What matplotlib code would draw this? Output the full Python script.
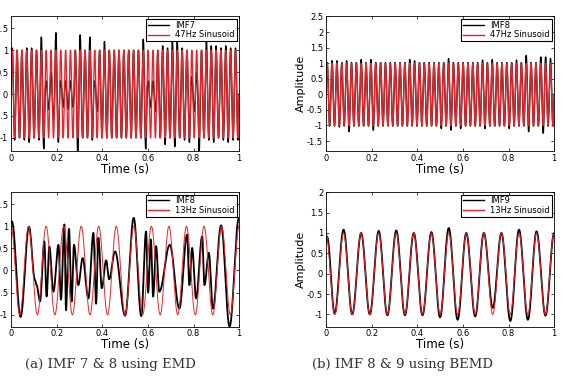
import matplotlib
matplotlib.use("Agg")
import matplotlib.pyplot as plt
import numpy as np
from matplotlib.ticker import FormatStrFormatter

# =========================
# Datos
# =========================
f_hi = 47   # Hz, sinusoide de referencia (arriba)
f_lo = 13   # Hz, sinusoide de referencia (abajo)

# amplitud de cada medio ciclo (47 ciclos) - IMF7 (EMD)
imf7_pos = [1.05, 1.0, 1.0, 1.05, 1.05, 1.0, 1.3, 0.3, 0.5, 1.4,
            0.3, 0.3, 0.3, 1.0, 1.35, 1.0, 1.3, 0.3, 1.0, 1.2,
            1.0, 1.0, 1.0, 1.0, 1.0, 1.0, 1.0, 1.25, 0.3, 0.3,
            1.0, 1.1, 1.05, 1.2, 1.2, 1.05, 1.0, 0.4, 0.5, 1.0,
            1.25, 1.1, 1.1, 1.05, 1.1, 1.05, 1.05]
imf7_neg = [-1.05, -1.0, -1.05, -1.1, -1.0, -1.05, -1.25, -0.35, -0.6, -1.1,
            -0.3, -0.35, -0.3, -1.4, -1.0, -1.0, -1.05, -0.4, -1.0, -1.0,
            -1.0, -1.0, -1.0, -1.0, -1.0, -1.0, -1.0, -1.25, -0.3, -0.4,
            -1.0, -1.15, -1.0, -1.2, -1.0, -1.05, -1.1, -0.4, -1.35, -1.0,
            -1.05, -1.1, -1.0, -1.05, -1.1, -1.05, -1.05]

# IMF8 (BEMD)
imf8b_pos = [1.02, 1.08, 1.08, 1.02, 1.08, 1.02, 1.02, 1.12, 1.02, 1.12,
             1.02, 1.02, 1.02, 1.02, 1.02, 1.02, 1.02, 1.12, 1.08, 1.02,
             1.02, 1.02, 1.02, 1.02, 1.02, 1.15, 1.02, 1.02, 1.02, 1.02,
             1.02, 1.02, 1.1, 1.02, 1.12, 1.02, 1.02, 1.02, 1.02, 1.1,
             1.02, 1.25, 1.02, 1.02, 1.2, 1.2, 1.15]
imf8b_neg = [-1.02, -1.02, -1.05, -1.02, -1.2, -1.02, -1.02, -1.02, -1.02, -1.15,
             -1.02, -1.02, -1.02, -1.02, -1.02, -1.02, -1.02, -1.02, -1.02, -1.02,
             -1.02, -1.02, -1.02, -1.1, -1.02, -1.15, -1.02, -1.1, -1.02, -1.02,
             -1.02, -1.02, -1.1, -1.02, -1.02, -1.02, -1.02, -1.1, -1.02, -1.02,
             -1.02, -1.2, -1.02, -1.02, -1.25, -1.02, -1.02]

# extremos de IMF8 (EMD): tiempo, valor
imf8_t = [0.0, 0.004, 0.042, 0.079, 0.105, 0.112, 0.127, 0.146, 0.156, 0.168,
          0.186, 0.208, 0.219, 0.234, 0.241, 0.254, 0.266, 0.276, 0.295, 0.314,
          0.339, 0.361, 0.373, 0.383, 0.398, 0.417, 0.43, 0.456, 0.5, 0.538,
          0.571, 0.592, 0.601, 0.613, 0.623, 0.636, 0.65, 0.696, 0.738, 0.772,
          0.782, 0.794, 0.811, 0.838, 0.848, 0.867, 0.885, 0.921, 0.958, 0.999, 1.0]
imf8_v = [1.08, 1.11, -1.05, 0.99, -0.21, -0.33, -0.70, 0.66, -0.59, 0.54,
          -0.48, 0.58, -0.66, 1.04, -0.9, 0.94, -0.70, 0.58, -0.33, 0.28,
          -0.63, 0.85, -0.75, 0.74, -0.4, 0.23, -0.2, 0.43, -1.02, 1.19,
          -1.03, 0.88, -0.5, 0.70, -0.59, 0.55, -0.48, 0.58, -0.86, 0.81,
          -0.33, 0.51, -0.63, 0.77, -0.33, 0.40, -0.86, 1.02, -1.27, 1.19, 1.17]

# extremos de IMF9 (BEMD)
imf9_t = [0.0, 0.005, 0.038, 0.077, 0.115, 0.154, 0.192, 0.231, 0.269, 0.308,
          0.346, 0.385, 0.423, 0.462, 0.5, 0.538, 0.577, 0.615, 0.654, 0.692,
          0.731, 0.769, 0.808, 0.846, 0.885, 0.923, 0.962, 1.0]
imf9_v = [0.78, 0.9, -0.98, 1.08, -1.0, 1.0, -1.0, 1.05, -1.02, 1.06,
          -1.02, 1.0, -1.02, 1.02, -1.07, 1.12, -1.13, 1.0, -1.05, 1.0,
          -0.84, 1.0, -1.16, 1.08, -1.13, 1.04, -1.03, 1.0]

t = np.linspace(0, 1, 8000)


def half_cycles(pos, neg, f):
    ph = t * f
    k = np.minimum(np.floor(ph).astype(int), len(pos) - 1)
    amp = np.where(ph - np.floor(ph) < 0.5, np.array(pos)[k], -np.array(neg)[k])
    return amp * np.sin(2 * np.pi * f * t)


def through_extrema(te, ve):
    out = np.empty_like(t)
    for i in range(len(te) - 1):
        m = (t >= te[i]) & (t <= te[i + 1])
        s = (t[m] - te[i]) / (te[i + 1] - te[i])
        out[m] = ve[i] + (ve[i + 1] - ve[i]) * (1 - np.cos(np.pi * s)) / 2
    return out


fig = plt.figure(figsize=(5.64, 3.8), dpi=100)

panels = [
    # posicion, imf, referencia, etiquetas, ylim, yticks, ylabel, grosores
    ([0.0195, 0.6026], half_cycles(imf7_pos, imf7_neg, f_hi), np.sin(2 * np.pi * f_hi * t),
     ["IMF7", "47Hz Sinusoid"], (-1.3, 1.77), np.arange(-1, 1.6, 0.5), False, (1.0, 0.95)),
    ([0.0195, 0.1403], through_extrema(imf8_t, imf8_v), np.cos(2 * np.pi * f_lo * t),
     ["IMF8", "13Hz Sinusoid"], (-1.27, 1.77), np.arange(-1, 1.6, 0.5), False, (1.3, 0.7)),
    ([0.578, 0.6026], half_cycles(imf8b_pos, imf8b_neg, f_hi), np.sin(2 * np.pi * f_hi * t),
     ["IMF8", "47Hz Sinusoid"], (-1.82, 2.5), np.arange(-1.5, 2.6, 0.5), True, (1.0, 0.95)),
    ([0.578, 0.1403], through_extrema(imf9_t, imf9_v), np.cos(2 * np.pi * f_lo * t),
     ["IMF9", "13Hz Sinusoid"], (-1.3, 2.0), np.arange(-1, 2.1, 0.5), True, (1.3, 0.7)),
]

for pos, imf, ref, labels, ylim, yt, ylab, lws in panels:
    ax = fig.add_axes([pos[0], pos[1], 0.4045, 0.354])
    ax.plot(t, imf, color="black", lw=lws[0], label=labels[0])
    ax.plot(t, ref, color="#ec2228", lw=lws[1], label=labels[1])
    ax.set_xlim(0, 1)
    ax.set_ylim(*ylim)
    ax.set_xticks(np.arange(0, 1.01, 0.2))
    ax.set_yticks(yt)
    ax.xaxis.set_major_formatter(FormatStrFormatter("%g"))
    ax.yaxis.set_major_formatter(FormatStrFormatter("%g"))
    ax.tick_params(direction="in", top=True, right=True, labelsize=6,
                   length=2.5, width=0.5, pad=2)
    for sp in ax.spines.values():
        sp.set_linewidth(0.6)
    ax.set_xlabel("Time (s)", fontsize=8.5, labelpad=0)
    if ylab:
        ax.set_ylabel("Amplitude", fontsize=8, labelpad=1)
    leg = ax.legend(loc="upper right", fontsize=6, fancybox=False,
                    framealpha=1, edgecolor="black", borderpad=0.2,
                    handlelength=2.5, labelspacing=0.1, borderaxespad=0.3)
    leg.get_frame().set_linewidth(0.8)
    for ln in leg.get_lines():
        ln.set_linewidth(1.0)

fig.text(0.195, 0.04, "(a) IMF 7 & 8 using EMD", ha="center", va="center",
         fontsize=9.5, family="DejaVu Serif", color="#333333")
fig.text(0.713, 0.04, "(b) IMF 8 & 9 using BEMD", ha="center", va="center",
         fontsize=9.5, family="DejaVu Serif", color="#333333")

fig.savefig("out.png", dpi=100)
